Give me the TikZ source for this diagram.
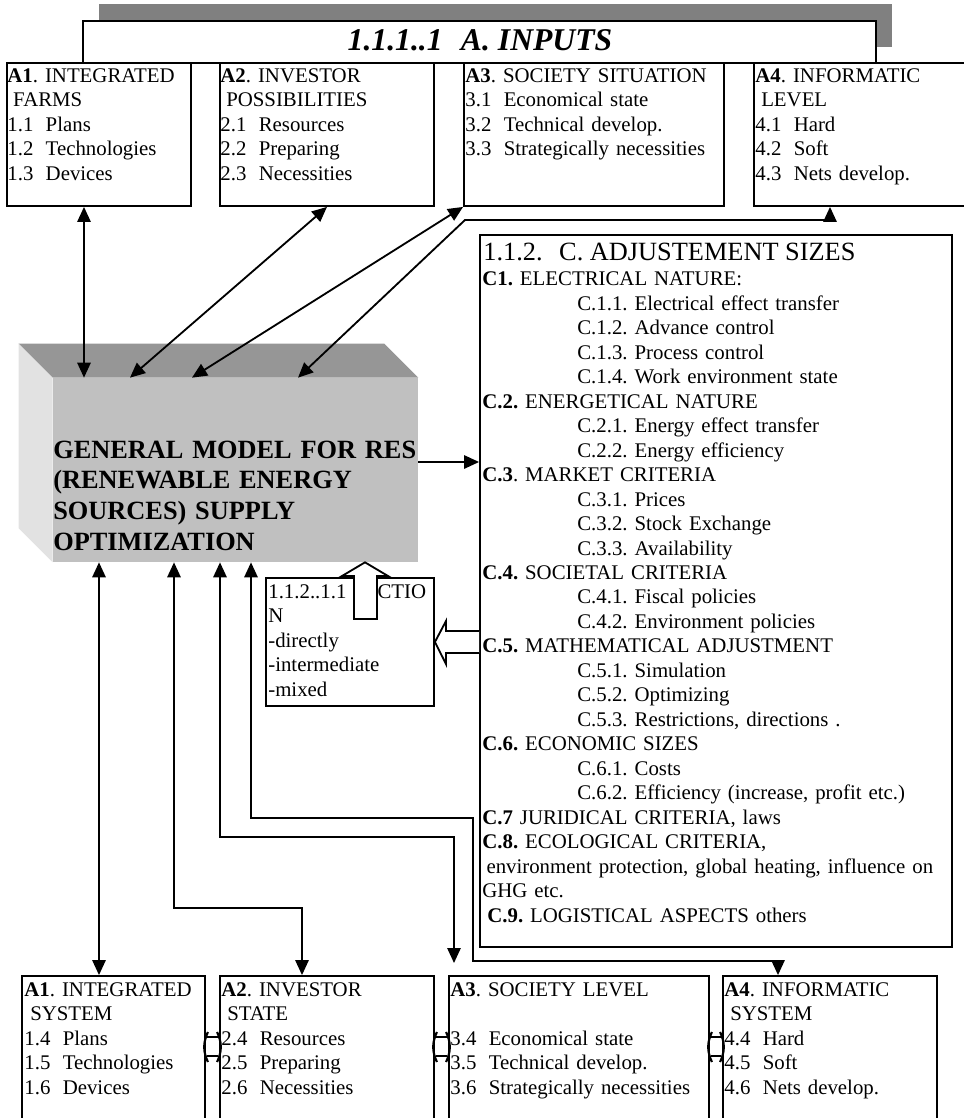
\documentclass[tikz,border=0pt]{standalone}
\usepackage{fontspec}
\setmainfont{Liberation Serif}
\usetikzlibrary{arrows.meta}
\usetikzlibrary{calc}
\usetikzlibrary{fit}

\definecolor{bannergray}{RGB}{128,128,128}
\definecolor{frontgray}{RGB}{192,192,192}
\definecolor{topgray}{RGB}{150,150,150}
\definecolor{sidegray}{RGB}{226,226,226}

\newcommand{\itm}[2]{\makebox[23pt][l]{#1}#2}
\newcommand{\citem}[1]{\hspace*{57pt}#1}
\frenchspacing

\begin{document}
\begin{tikzpicture}[x=0.6pt,y=-0.6pt,
    >={Triangle[length=9pt,width=8pt]},
    panel/.style={draw,line width=1.1pt,inner sep=0pt,fill=white},
    txt/.style={anchor=base west,inner sep=0pt,align=left,
      font=\fontsize{12.5}{14.7}\selectfont},
    link/.style={line width=1.1pt}]
  \useasboundingbox (0,0) rectangle (963,1118);

  \fill[bannergray] (99,4) rectangle (892,47);
  \node[panel,fit={(83,21)(876,63)}] (inputs) {};
  \node[anchor=base,inner sep=0pt,font=\fontsize{19}{22}\selectfont\bfseries\itshape] (inputstitle) at (480,51) {1.1.1..1\hspace{11pt}A. INPUTS};

  \node[panel,fit={(7,63)(191,206)}] (in1) {};
  \node[panel,fit={(220,63)(434,206)}] (in2) {};
  \node[panel,fit={(464,63)(724,206)}] (in3) {};
  \node[panel,fit={(754,63)(968,206)}] (in4) {};

  \node[txt,text width=108pt] (in1text) at ($(in1.north west)+(1,20)$) {\textbf{A1}. INTEGRATED\\\hspace*{3.5pt}FARMS\\\itm{1.1}{Plans}\\\itm{1.2}{Technologies}\\\itm{1.3}{Devices}};
  \node[txt,text width=126pt] (in2text) at ($(in2.north west)+(1,20)$) {\textbf{A2}. INVESTOR\\\hspace*{3.5pt}POSSIBILITIES\\\itm{2.1}{Resources}\\\itm{2.2}{Preparing}\\\itm{2.3}{Necessities}};
  \node[txt,text width=154pt] (in3text) at ($(in3.north west)+(2,20)$) {\textbf{A3}. SOCIETY SITUATION\\\itm{3.1}{Economical state}\\\itm{3.2}{Technical develop.}\\\itm{3.3}{Strategically necessities}};
  \node[txt,text width=124pt] (in4text) at ($(in4.north west)+(2,20)$) {\textbf{A4}. INFORMATIC\\\hspace*{3.5pt}LEVEL\\\itm{4.1}{Hard}\\\itm{4.2}{Soft}\\\itm{4.3}{Nets develop.}};

  % the model block, front face with a top and a side face behind it
  \node[fit={(53,378)(418,562)},inner sep=0pt,fill=frontgray] (model) {};
  \fill[topgray] (model.north west) -- +(-34,-34) -- ($(model.north east)+(-34,-34)$) -- (model.north east) -- cycle;
  \fill[sidegray] (model.north west) -- +(-34,-34) -- ($(model.south west)+(-34,-34)$) -- (model.south west) -- cycle;
  \node[anchor=base west,inner sep=0pt,align=left,text width=222pt,
    font=\fontsize{15.8}{18.4}\selectfont\bfseries] (modeltext) at (53,458)
    {GENERAL MODEL FOR RES\\(RENEWABLE ENERGY\\SOURCES) SUPPLY\\OPTIMIZATION};

  \node[panel,fit={(480,235)(952,947)}] (adj) {};
  \node[anchor=base west,inner sep=0pt,font=\fontsize{15.8}{18.4}\selectfont] (adjtitle) at (483,260) {1.1.2.\hspace{10pt}C. ADJUSTEMENT SIZES};
  \node[txt,text width=282pt] (adjtext) at (482,285.5) {\textbf{C1.} ELECTRICAL NATURE:\\
    \citem{C.1.1. Electrical effect transfer}\\
    \citem{C.1.2. Advance control}\\
    \citem{C.1.3. Process control}\\
    \citem{C.1.4. Work environment state}\\
    \textbf{C.2.} ENERGETICAL NATURE\\
    \citem{C.2.1. Energy effect transfer}\\
    \citem{C.2.2. Energy efficiency}\\
    \textbf{C.3}. MARKET CRITERIA\\
    \citem{C.3.1. Prices}\\
    \citem{C.3.2. Stock Exchange}\\
    \citem{C.3.3. Availability}\\
    \textbf{C.4.} SOCIETAL CRITERIA\\
    \citem{C.4.1. Fiscal policies}\\
    \citem{C.4.2. Environment policies}\\
    \textbf{C.5.} MATHEMATICAL ADJUSTMENT\\
    \citem{C.5.1. Simulation}\\
    \citem{C.5.2. Optimizing}\\
    \citem{C.5.3. Restrictions, directions .}\\
    \textbf{C.6.} ECONOMIC SIZES\\
    \citem{C.6.1. Costs}\\
    \citem{C.6.2. Efficiency (increase, profit etc.)}\\
    \textbf{C.7} JURIDICAL CRITERIA, laws\\
    \textbf{C.8.} ECOLOGICAL CRITERIA,\\
    \hspace*{2.5pt}environment protection, global heating, influence on\\
    GHG etc.\\
    \hspace*{3pt}\textbf{C.9.} LOGISTICAL ASPECTS others};

  \node[panel,fit={(266,578)(434,706)}] (action) {};
  \node[txt,text width=99pt] (actiontext) at (268,598) {1.1.2..1.1\hspace{9.6pt}ACTIO\\N\\-directly\\-intermediate\\-mixed};

  \node[panel,fit={(22,976)(205,1125)}] (out1) {};
  \node[panel,fit={(220,976)(434,1125)}] (out2) {};
  \node[panel,fit={(449,976)(709,1125)}] (out3) {};
  \node[panel,fit={(723,976)(937,1125)}] (out4) {};

  \node[txt,text width=108pt] (out1text) at ($(out1.north west)+(3,21)$) {\textbf{A1}. INTEGRATED\\\hspace*{3.5pt}SYSTEM\\\itm{1.4}{Plans}\\\itm{1.5}{Technologies}\\\itm{1.6}{Devices}};
  \node[txt,text width=126pt] (out2text) at ($(out2.north west)+(2,21)$) {\textbf{A2}. INVESTOR\\\hspace*{3.5pt}STATE\\\itm{2.4}{Resources}\\\itm{2.5}{Preparing}\\\itm{2.6}{Necessities}};
  \node[txt,text width=154pt] (out3text) at ($(out3.north west)+(2,21)$) {\textbf{A3}. SOCIETY LEVEL\\[14.7pt]\itm{3.4}{Economical state}\\\itm{3.5}{Technical develop.}\\\itm{3.6}{Strategically necessities}};
  \node[txt,text width=126pt] (out4text) at ($(out4.north west)+(2,21)$) {\textbf{A4}. INFORMATIC\\\hspace*{3.5pt}SYSTEM\\\itm{4.4}{Hard}\\\itm{4.5}{Soft}\\\itm{4.6}{Nets develop.}};

  % inputs <-> model
  \draw[link,<->] (84,0 |- in1.south) -- (84,0 |- model.north);
  \draw[link,<->] (327,0 |- in2.south) -- (130,0 |- model.north);
  \draw[link,<->] (in3.south west) -- (192,0 |- model.north);
  \draw[link,<->] (298,0 |- model.north) -- (465,220) -- (830,220) -- (830,0 |- in4.south);
  \draw[link,->] (model.east |- 0,462) -- (adj.west |- 0,462);

  % model <-> outputs
  \draw[link,<->] (99,0 |- model.south) -- (99,0 |- out1.north);
  \draw[link,<->] (174,0 |- model.south) -- (174,908) -| (302,0 |- out2.north);
  \draw[link,<->] (220,0 |- model.south) -- (220,837) -| (454,963);
  \draw[link,<->] (251,0 |- model.south) -- (251,818) -| (473,961) -| (778,0 |- out4.north);

  % block arrows of the action box
  \draw[line width=1.1pt,fill=white] (354,619) -- (377,619) -- (377,576) -- (388,576)
    -- (365,0 |- model.south) -- (342,576) -- (354,576) -- cycle;
  \draw[line width=1.1pt,fill=white] (adj.west |- 0,631) -- (446,631) -- (446,621)
    -- (action.east |- 0,642) -- (446,664) -- (446,653) -- (adj.west |- 0,653);

  % joints between the output boxes
  \foreach \a/\b in {out1/out2,out2/out3,out3/out4}{
    \draw[line width=1pt] ($(\a.east |- 0,1037)+(1,0)$) -- ($(\b.west |- 0,1037)+(-1,0)$);
    \draw[line width=1pt] ($(\a.east |- 0,1056)+(1,0)$) -- ($(\b.west |- 0,1056)+(-1,0)$);
    \draw[line width=1.3pt] ($(\a.east |- 0,1032)+(2,0)$) to[bend right=25] ($(\a.east |- 0,1062)+(2,0)$);
    \draw[line width=1.3pt] ($(\b.west |- 0,1032)+(-2,0)$) to[bend left=25] ($(\b.west |- 0,1062)+(-2,0)$);
  }
\end{tikzpicture}
\end{document}
